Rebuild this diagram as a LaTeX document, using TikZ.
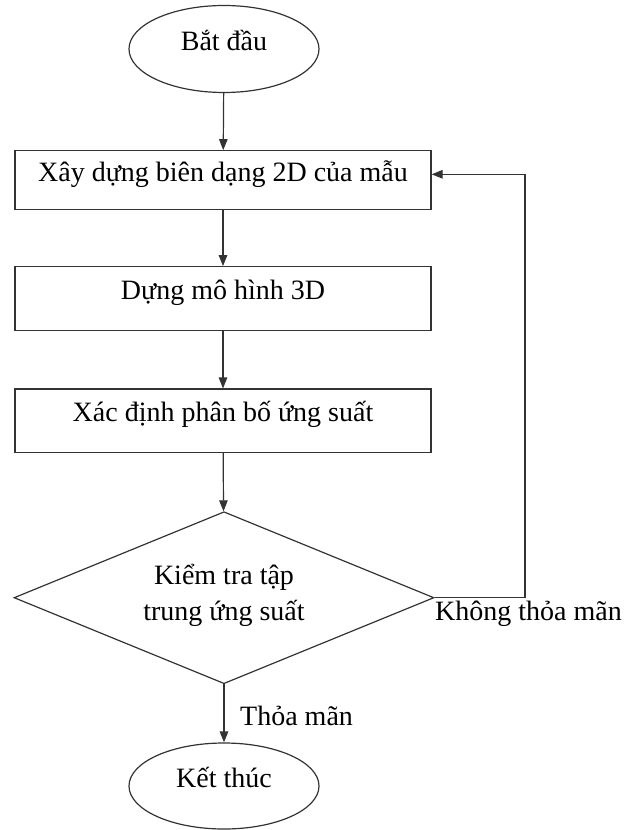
\documentclass[tikz,border=0pt]{standalone}
\usepackage{fontspec}
\setmainfont{Liberation Serif}
\usetikzlibrary{arrows.meta,shapes.geometric}
\begin{document}
\begin{tikzpicture}[x=1pt,y=-1pt,
  every node/.style={font=\fontsize{28}{33}\selectfont, text=black},
  line/.style={draw=black!80, line width=1.2pt},
  arr/.style={line, -{Triangle[length=11pt,width=8.5pt]}},
  txt/.style={text height=11pt, text depth=9pt},
  proc/.style={line, rectangle, minimum width=416pt, inner sep=0pt, txt},
  term/.style={line, ellipse, minimum width=190pt, minimum height=87pt, inner sep=0pt, txt},
  dec/.style={line, diamond, minimum width=420pt, minimum height=172pt, inner sep=0pt, shape aspect=2.44},
  lbl/.style={anchor=base west, inner sep=0pt}
]
\useasboundingbox (0,0) rectangle (627,830);
\node[term] (start) at (224,49) {Bắt đầu};
\node[proc, minimum height=58.6pt] (b1) at (223,180) {Xây dựng biên dạng 2D của mẫu};
\node[proc, minimum height=64pt] (b2) at (223,298.7) {Dựng mô hình 3D};
\node[proc, minimum height=63.3pt] (b3) at (223,420.7) {Xác định phân bố ứng suất};
\node[dec] (dec) at (224,597.7) {};
\node[align=center, inner sep=0pt, font=\fontsize{28}{36}\selectfont] (dectext) at (224,595.5) {Kiểm tra tập\\trung ứng suất};
\node[term, minimum height=86pt] (end) at (224,786) {Kết thúc};
\coordinate (loopA) at (525,597.7);
\coordinate (loopB) at (525,174.3);
\draw[arr] (start) -- (b1);
\draw[arr] (b1) -- (b2);
\draw[arr] (b2) -- (b3);
\draw[arr] (b3) -- (dec);
\draw[arr] (dec) -- (end);
\draw[arr] (dec.east) -- (loopA) -- (loopB) -- (b1.east |- loopB);
\node[lbl] (yes) at (240,725.7) {Thỏa mãn};
\node[lbl] (no) at (435,620.7) {Không thỏa mãn};
\end{tikzpicture}
\end{document}
